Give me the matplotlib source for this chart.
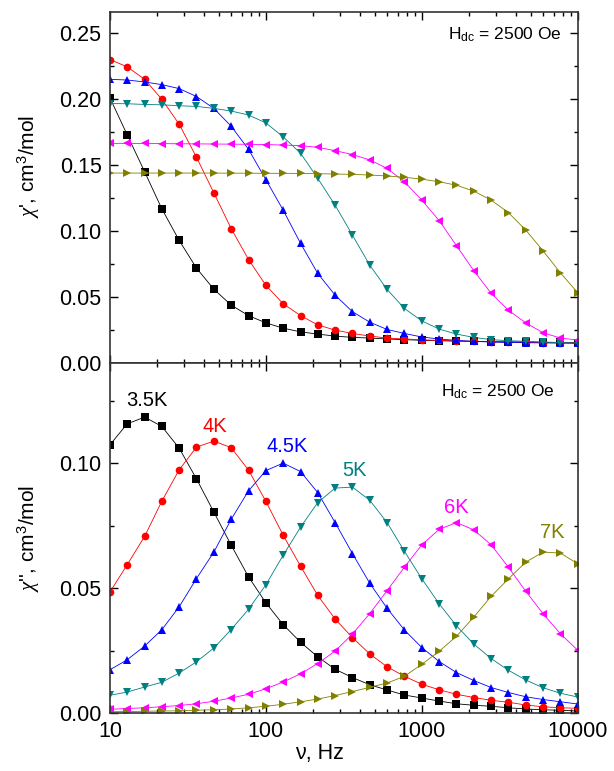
import matplotlib
matplotlib.use("Agg")
import matplotlib.pyplot as plt
from matplotlib.ticker import MultipleLocator, LogLocator, NullFormatter, FixedLocator, FixedFormatter

plt.rcParams["font.family"] = ["Liberation Sans", "DejaVu Sans"]
plt.rcParams["mathtext.fontset"] = "custom"
plt.rcParams["mathtext.rm"] = "Liberation Sans"
plt.rcParams["mathtext.it"] = "Liberation Serif:italic"

# frequencies (Hz)
freq = [10, 12.9, 16.7, 21.5, 27.8, 35.9, 46.4, 59.9, 77.4, 100,
        129, 167, 215, 278, 359, 464, 599, 774, 1000, 1292,
        1668, 2154, 2783, 3594, 4642, 5995, 7743, 10000]

temps = ["3.5K", "4K", "4.5K", "5K", "6K", "7K"]
colors = ["#000000", "#ff0000", "#0000ff", "#008080", "#ff00ff", "#808000"]
markers = ["s", "o", "^", "v", "<", ">"]

# chi' (cm3/mol)
chi1_35 = [0.201, 0.173, 0.145, 0.117, 0.093, 0.072, 0.056, 0.044, 0.036, 0.0305,
           0.0265, 0.0237, 0.022, 0.0205, 0.0195, 0.019, 0.0183, 0.0178, 0.0173, 0.017,
           0.0167, 0.0165, 0.0163, 0.0161, 0.016, 0.0158, 0.0157, 0.0155]
chi1_4 = [0.230, 0.2245, 0.215, 0.200, 0.181, 0.156, 0.129, 0.102, 0.0785, 0.059,
          0.045, 0.036, 0.029, 0.025, 0.0225, 0.0205, 0.019, 0.0183, 0.0177, 0.0172,
          0.0168, 0.0165, 0.0162, 0.016, 0.0158, 0.0156, 0.0155, 0.0153]
chi1_45 = [0.215, 0.2145, 0.213, 0.211, 0.208, 0.202, 0.193, 0.1795, 0.162, 0.139,
           0.116, 0.0907, 0.068, 0.0515, 0.039, 0.031, 0.0255, 0.0225, 0.0198, 0.0183,
           0.0172, 0.0165, 0.016, 0.0157, 0.0155, 0.0153, 0.0152, 0.015]
chi1_5 = [0.1967, 0.1965, 0.196, 0.1957, 0.195, 0.1945, 0.193, 0.191, 0.188, 0.182,
          0.1715, 0.159, 0.140, 0.1197, 0.097, 0.0742, 0.0558, 0.0414, 0.032, 0.0258,
          0.022, 0.0195, 0.0178, 0.017, 0.0165, 0.016, 0.0155, 0.0153]
chi1_6 = [0.1665, 0.1665, 0.1664, 0.1663, 0.1662, 0.1661, 0.166, 0.1659, 0.1658, 0.1656,
          0.1652, 0.1648, 0.1635, 0.161, 0.158, 0.154, 0.1475, 0.1374, 0.1235, 0.108,
          0.089, 0.070, 0.053, 0.040, 0.0305, 0.023, 0.019, 0.0175]
chi1_7 = [0.144, 0.144, 0.144, 0.144, 0.144, 0.144, 0.144, 0.1439, 0.1439, 0.1438,
          0.1438, 0.1437, 0.1435, 0.1433, 0.143, 0.1425, 0.1418, 0.1408, 0.1394, 0.1374,
          0.1348, 0.1303, 0.1235, 0.114, 0.1008, 0.085, 0.0684, 0.0533]

# chi'' (cm3/mol)
chi2_35 = [0.1073, 0.1157, 0.1184, 0.1147, 0.106, 0.0937, 0.0804, 0.0672, 0.0545, 0.0441,
           0.0354, 0.0283, 0.0225, 0.0175, 0.0142, 0.0113, 0.0092, 0.0072, 0.006, 0.0048,
           0.0037, 0.0031, 0.0027, 0.0021, 0.0016, 0.0013, 0.0011, 0.0008]
chi2_4 = [0.0484, 0.0593, 0.0707, 0.0847, 0.0973, 0.1064, 0.1088, 0.1062, 0.0972, 0.0847,
          0.0712, 0.0587, 0.0471, 0.0376, 0.0302, 0.0236, 0.0185, 0.0147, 0.0115, 0.0093,
          0.0075, 0.0062, 0.0051, 0.0043, 0.0032, 0.0025, 0.0021, 0.0019]
chi2_45 = [0.0173, 0.0213, 0.0268, 0.0333, 0.0425, 0.0538, 0.0644, 0.0775, 0.0889, 0.097,
           0.1, 0.0966, 0.0882, 0.0762, 0.0638, 0.0519, 0.0419, 0.0332, 0.0262, 0.0206,
           0.0162, 0.013, 0.0102, 0.0082, 0.0065, 0.0054, 0.0045, 0.0036]
chi2_5 = [0.0071, 0.0084, 0.0104, 0.0123, 0.016, 0.0205, 0.026, 0.0334, 0.0415, 0.0513,
          0.0631, 0.0744, 0.0842, 0.09, 0.0904, 0.0851, 0.0762, 0.0647, 0.0537, 0.0437,
          0.0349, 0.0276, 0.0218, 0.0171, 0.0132, 0.0101, 0.0079, 0.0064]
chi2_6 = [0.0015, 0.0018, 0.0021, 0.0025, 0.003, 0.0037, 0.0047, 0.006, 0.0075, 0.0097,
          0.0124, 0.0157, 0.0198, 0.0248, 0.0316, 0.0398, 0.049, 0.0584, 0.0673, 0.0735,
          0.0762, 0.0733, 0.0673, 0.0583, 0.0487, 0.0397, 0.0317, 0.0251]
chi2_7 = [0.0005, 0.0006, 0.0007, 0.0008, 0.0009, 0.0011, 0.0013, 0.0016, 0.0021, 0.0027,
          0.0035, 0.0045, 0.0056, 0.007, 0.0086, 0.0103, 0.012, 0.0147, 0.0195, 0.0247,
          0.0307, 0.0384, 0.0467, 0.0537, 0.0604, 0.0644, 0.064, 0.0597]

chi1 = [chi1_35, chi1_4, chi1_45, chi1_5, chi1_6, chi1_7]
chi2 = [chi2_35, chi2_4, chi2_45, chi2_5, chi2_6, chi2_7]

# label positions (freq, value) for temperatures in the lower panel
label_x = [17.3, 47, 136, 372, 1675, 6810]
label_y = [0.125, 0.1148, 0.1067, 0.097, 0.0823, 0.0723]

fig = plt.figure(figsize=(6.14, 7.71), dpi=100)
ax1 = fig.add_axes([0.179, 0.529, 0.762, 0.4554])
ax2 = fig.add_axes([0.179, 0.0752, 0.762, 0.4538])

for i in range(6):
  ax1.plot(freq, chi1[i], color=colors[i], marker=markers[i], markersize=5.5,
           linewidth=0.6, markeredgewidth=0)
  ax2.plot(freq, chi2[i], color=colors[i], marker=markers[i], markersize=5.5,
           linewidth=0.6, markeredgewidth=0)
  ax2.text(label_x[i], label_y[i], temps[i], color=colors[i], fontsize=14.5,
           ha="center", va="center")

for ax in [ax1, ax2]:
  ax.set_xscale("log")
  ax.set_xlim(10, 10000)
  ax.xaxis.set_major_locator(FixedLocator([10, 100, 1000, 10000]))
  ax.xaxis.set_minor_locator(LogLocator(base=10, subs=range(2, 10)))
  ax.xaxis.set_minor_formatter(NullFormatter())
  ax.tick_params(which="both", direction="in", top=True, right=True, labelsize=15.5)
  ax.tick_params(which="major", length=6, width=1, pad=6)
  ax.tick_params(which="minor", length=3, width=1)
  for s in ax.spines.values():
    s.set_linewidth(1.2)
    s.set_color("#333333")

ax1.text(0.966, 0.960, r"H$_{\rm dc}$ = 2500 Oe", transform=ax1.transAxes,
         ha="right", va="top", fontsize=12.5)
ax2.text(0.951, 0.943, r"H$_{\rm dc}$ = 2500 Oe", transform=ax2.transAxes,
         ha="right", va="top", fontsize=12.5)

ax1.set_ylim(0, 0.266)
ax1.yaxis.set_major_locator(MultipleLocator(0.05))
ax1.yaxis.set_minor_locator(MultipleLocator(0.025))
ax1.yaxis.set_major_formatter(plt.FormatStrFormatter("%.2f"))
ax1.set_xticklabels([])
ax1.set_ylabel(r"$\chi$', cm$^3$/mol", fontsize=15)

ax2.set_ylim(0, 0.140)
ax2.yaxis.set_major_locator(MultipleLocator(0.05))
ax2.yaxis.set_minor_locator(MultipleLocator(0.025))
ax2.yaxis.set_major_formatter(plt.FormatStrFormatter("%.2f"))
ax2.xaxis.set_major_formatter(FixedFormatter(["10", "100", "1000", "10000"]))
ax2.set_ylabel(r"$\chi$'', cm$^3$/mol", fontsize=15)
ax2.set_xlabel("ν, Hz", fontsize=15.5)

ax1.yaxis.set_label_coords(-0.145, 0.56)
ax2.yaxis.set_label_coords(-0.145, 0.5)
ax2.xaxis.set_label_coords(0.449, -0.085)

fig.savefig("out.png", dpi=100)
